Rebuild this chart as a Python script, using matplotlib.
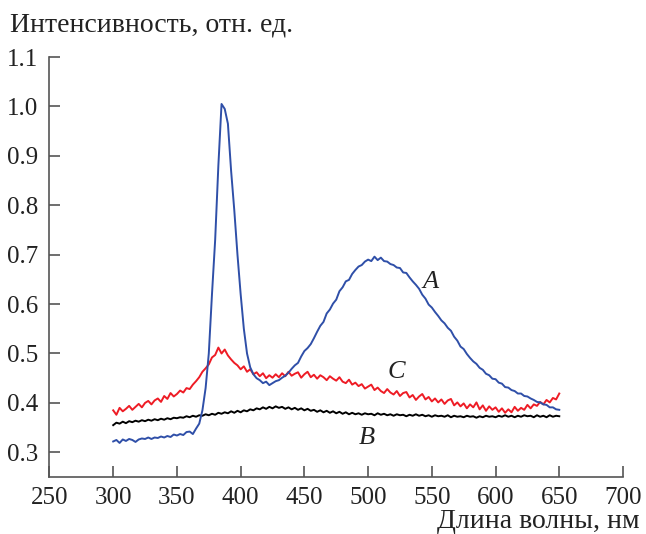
import numpy as np
import matplotlib
matplotlib.use("Agg")
import matplotlib.pyplot as plt

# wavelengths, nm (2.5 nm step)
wl = [300 + 2.5 * i for i in range(141)]

curve_A = [
    0.322, 0.325, 0.319, 0.326, 0.323, 0.327, 0.325, 0.321, 0.326, 0.328,
    0.327, 0.330, 0.327, 0.330, 0.329, 0.332, 0.330, 0.333, 0.331, 0.336,
    0.334, 0.337, 0.335, 0.341, 0.342, 0.337, 0.348, 0.358, 0.385, 0.430,
    0.500, 0.620, 0.730, 0.880, 1.005, 0.995, 0.965, 0.870, 0.790, 0.700,
    0.620, 0.550, 0.500, 0.472, 0.458, 0.450, 0.446, 0.440, 0.443, 0.436,
    0.440, 0.444, 0.446, 0.451, 0.455, 0.461, 0.469, 0.476, 0.481, 0.494,
    0.505, 0.511, 0.519, 0.531, 0.544, 0.556, 0.564, 0.581, 0.589, 0.601,
    0.609, 0.626, 0.634, 0.646, 0.649, 0.661, 0.669, 0.676, 0.679, 0.686,
    0.690, 0.687, 0.696, 0.689, 0.694, 0.687, 0.686, 0.681, 0.679, 0.674,
    0.673, 0.664, 0.663, 0.654, 0.646, 0.639, 0.631, 0.619, 0.611, 0.599,
    0.593, 0.584, 0.576, 0.567, 0.561, 0.552, 0.546, 0.534, 0.526, 0.514,
    0.509, 0.499, 0.491, 0.484, 0.479, 0.471, 0.467, 0.459, 0.456, 0.449,
    0.448, 0.441, 0.439, 0.432, 0.431, 0.426, 0.424, 0.419, 0.419, 0.414,
    0.413, 0.409, 0.406, 0.402, 0.401, 0.397, 0.396, 0.391, 0.391, 0.387,
    0.386,
]

curve_B = [
    0.355, 0.360, 0.358, 0.362, 0.359, 0.363, 0.361, 0.364, 0.362, 0.365,
    0.363, 0.366, 0.364, 0.367, 0.365, 0.368, 0.366, 0.369, 0.367, 0.370,
    0.369, 0.371, 0.370, 0.373, 0.371, 0.374, 0.372, 0.375, 0.374, 0.377,
    0.375, 0.378, 0.376, 0.380, 0.378, 0.381, 0.379, 0.383, 0.380, 0.384,
    0.381, 0.385, 0.383, 0.387, 0.385, 0.389, 0.387, 0.391, 0.388, 0.392,
    0.389, 0.393, 0.390, 0.392, 0.388, 0.391, 0.387, 0.390, 0.386, 0.389,
    0.385, 0.388, 0.384, 0.386, 0.382, 0.385, 0.381, 0.384, 0.380, 0.383,
    0.379, 0.382, 0.378, 0.381, 0.377, 0.380, 0.377, 0.379, 0.376, 0.379,
    0.377, 0.378, 0.375, 0.379, 0.376, 0.378, 0.375, 0.377, 0.374, 0.377,
    0.375, 0.376, 0.373, 0.376, 0.374, 0.377, 0.374, 0.376, 0.373, 0.375,
    0.372, 0.375, 0.373, 0.374, 0.372, 0.375, 0.371, 0.374, 0.372, 0.373,
    0.371, 0.374, 0.372, 0.373, 0.370, 0.373, 0.371, 0.374, 0.372, 0.373,
    0.371, 0.374, 0.372, 0.375, 0.372, 0.374, 0.371, 0.374, 0.372, 0.375,
    0.373, 0.374, 0.371, 0.375, 0.372, 0.374, 0.371, 0.375, 0.372, 0.374,
    0.373,
]

curve_C = [
    0.385, 0.376, 0.390, 0.383, 0.388, 0.394, 0.386, 0.392, 0.398, 0.391,
    0.400, 0.404, 0.397, 0.405, 0.409, 0.402,
    0.414, 0.408, 0.420, 0.413,
    0.418, 0.425, 0.421, 0.430, 0.428, 0.437,
    0.444, 0.452, 0.463, 0.470,
    0.478, 0.492, 0.497, 0.512, 0.500, 0.508,
    0.496, 0.488, 0.481, 0.476,
    0.468, 0.474, 0.463, 0.468, 0.458, 0.462,
    0.454, 0.460, 0.450, 0.456, 0.451, 0.458,
    0.452, 0.460, 0.454, 0.463, 0.455, 0.459,
    0.462, 0.451, 0.458, 0.463, 0.452, 0.457,
    0.449, 0.456, 0.452, 0.446, 0.454, 0.449,
    0.445, 0.452, 0.443, 0.440, 0.447, 0.437,
    0.441, 0.434, 0.438, 0.429, 0.433, 0.437,
    0.426, 0.431, 0.424, 0.420, 0.428, 0.421,
    0.417, 0.424, 0.414, 0.420, 0.422, 0.411,
    0.416, 0.406, 0.413, 0.418, 0.407, 0.412,
    0.403, 0.409, 0.401, 0.407, 0.398, 0.405,
    0.408, 0.395, 0.401, 0.393, 0.399, 0.389,
    0.397, 0.391, 0.401, 0.387, 0.395, 0.384,
    0.393, 0.386, 0.391, 0.382, 0.389, 0.380,
    0.387, 0.381, 0.392, 0.384, 0.390, 0.386,
    0.396, 0.389, 0.397, 0.394, 0.402, 0.397,
    0.406, 0.401, 0.410, 0.407, 0.419,
]

x_ticks = [250, 300, 350, 400, 450, 500, 550, 600, 650, 700]
y_ticks = [0.3, 0.4, 0.5, 0.6, 0.7, 0.8, 0.9, 1.0, 1.1]
y_label = "Интенсивность, отн. ед."
x_label = "Длина волны, нм"

plt.rcParams['font.family'] = ['Liberation Serif', 'DejaVu Serif']
plt.rcParams['font.size'] = 18

fig = plt.figure(figsize=(6.46, 5.34), dpi=100)
ax = fig.add_axes([0.0766, 0.1067, 0.8878, 0.7865])

ax.plot(wl, curve_C, color='#ee1c25', lw=1.4, zorder=2)
ax.plot(wl, curve_B, color='#000000', lw=1.4, zorder=3)
ax.plot(wl, curve_A, color='#2f4fa8', lw=1.4, zorder=4)

ax.set_xlim(250, 700)
ax.set_ylim(0.25, 1.1)
ax.set_xticks(x_ticks)
ax.set_yticks(y_ticks)
ax.set_xticklabels([str(t) for t in x_ticks])
ax.set_yticklabels([f"{t:.1f}" for t in y_ticks])

for s in ['top', 'right']:
    ax.spines[s].set_visible(False)
for s in ['left', 'bottom']:
    ax.spines[s].set_color('#555555')
    ax.spines[s].set_linewidth(1.2)
ax.spines['left'].set_bounds(0.25, 1.1)

ax.tick_params(axis='both', direction='in', length=8, width=1.2,
               color='#555555', labelcolor='#222222', labelsize=18)
ax.tick_params(axis='y', pad=8)
ax.tick_params(axis='x', pad=7)

ax.text(549, 0.644, "A", style='italic', fontsize=19, ha='center', va='center', color='#222222')
ax.text(522, 0.462, "C", style='italic', fontsize=19, ha='center', va='center', color='#222222')
ax.text(499, 0.328, "B", style='italic', fontsize=19, ha='center', va='center', color='#222222')

fig.text(10 / 646, 1 - 25 / 534, y_label, ha='left', va='center', fontsize=20, color='#222222')
fig.text(640 / 646, 1 - 522 / 534, x_label, ha='right', va='center', fontsize=20, color='#222222')

fig.savefig("out.png", dpi=100)
